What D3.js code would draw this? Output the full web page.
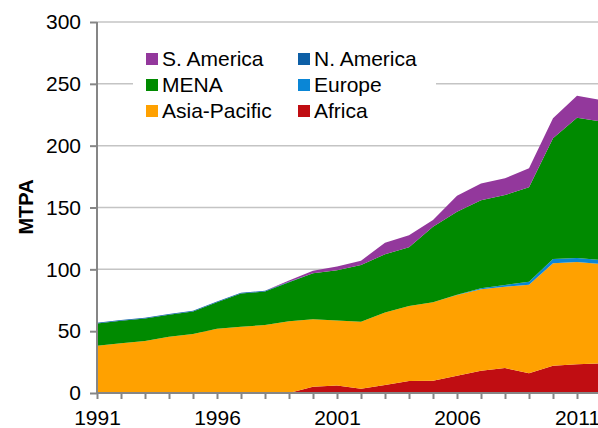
<!DOCTYPE html>
<html>
<head>
<meta charset="utf-8">
<script src="https://cdnjs.cloudflare.com/ajax/libs/d3/7.8.5/d3.min.js"></script>
<style>
body{margin:0;background:#fff;}
svg text{font-family:"Liberation Sans",Arial,sans-serif;fill:#000;}
</style>
</head>
<body>
<div id="root"></div>
<script>
// LNG exports by region, MTPA

var years=[1991,1992,1993,1994,1995,1996,1997,1998,1999,2000,2001,2002,2003,2004,2005,2006,2007,2008,2009,2010,2011,2012];
var africa=     [0,0,0,0,0,0,0,0,0,5,6,3.5,6.5,9.7,10,14,18,20.2,15.9,22.1,23.2,24];
var asiaPacific=[38.3,40.2,42,45.5,47.7,52,53.6,55,58,54.6,52.6,54.2,58.5,60.6,63.3,65.2,65.8,65.8,71.7,82.8,82.7,80.3];
var europe=     [0,0,0,0,0,0,0,0,0,0,0,0,0,0,0,0.3,1,1.3,2.4,3.5,3.3,3.2];
var mena=       [18,18.2,18.3,17.8,18.3,21.4,26.8,27.1,31.5,37.2,40.6,45.8,47.1,47.5,61.2,67.1,71.1,72.8,76.3,97.6,113.4,112];
var nAmerica=   [0.6,0.6,0.6,0.6,0.6,0.6,0.6,0.6,0.5,0,0,0,0,0,0,0,0,0,0,0,0,0];
var sAmerica=   [0,0,0,0,0,0,0,0,1,2.1,3.1,3.5,9.4,9.7,5.4,12.9,13.5,13.5,15.4,16.1,17.8,17.5];

var keys=['africa','asiaPacific','europe','mena','nAmerica','sAmerica'];
var names={africa:'Africa',asiaPacific:'Asia-Pacific',europe:'Europe',mena:'MENA',nAmerica:'N. America',sAmerica:'S. America'};
var colors={africa:'#c00d12',asiaPacific:'#ffa100',europe:'#0a86d6',mena:'#008a00',nAmerica:'#0d5fa6',sAmerica:'#93389c'};
var yTicks=[0,50,100,150,200,250,300];
var xTicks=[1991,1996,2001,2006,2011];

var W=598,H=428;
var svg=d3.select('#root').append('svg')
		.attr('width',W)
		.attr('height',H);

var table=years.map(function(y,i){
	return {year:y,africa:africa[i],asiaPacific:asiaPacific[i],europe:europe[i],mena:mena[i],nAmerica:nAmerica[i],sAmerica:sAmerica[i]};
});

var scaleX=d3.scaleLinear().domain([1991,2012]).range([97,601]);
var scaleY=d3.scaleLinear().domain([0,300]).range([393,22]);

// gridlines
svg.append('g').selectAll('line').data(yTicks.slice(1)).enter().append('line')
	.attr('x1',97).attr('x2',W)
	.attr('y1',function(d){return scaleY(d)}).attr('y2',function(d){return scaleY(d)})
	.attr('stroke','#c4c4c4').attr('stroke-width',1.5);

var series=d3.stack().keys(keys)(table);

var area=d3.area()
	.x(function(d){return scaleX(d.data.year)})
	.y0(function(d){return scaleY(d[0])})
	.y1(function(d){return scaleY(d[1])});

svg.append('g').selectAll('path').data(series).enter().append('path')
	.attr('d',area)
	.attr('fill',function(d){return colors[d.key]});

// axes
var yAxis=d3.axisLeft(scaleY).tickValues(yTicks).tickSize(7).tickPadding(9);
var gy=svg.append('g').attr('transform','translate(97,0)').call(yAxis);
var xAxis=d3.axisBottom(scaleX).tickValues(years).tickSize(6).tickFormat(function(d){return xTicks.indexOf(d)>=0?d:''});
var gx=svg.append('g').attr('transform','translate(0,393)').call(xAxis);

[gy,gx].forEach(function(g){
	g.select('.domain').attr('stroke','#868686').attr('stroke-width',2);
	g.selectAll('.tick line').attr('stroke','#868686').attr('stroke-width',2);
	g.selectAll('text').style('font-size','21px').attr('fill','#000');
});
gy.select('.domain').attr('d','M0,22V394');
gx.select('.domain').attr('d','M96,0H'+W);
gx.selectAll('text').attr('dy','0.71em').attr('y',17);

svg.append('text')
	.attr('transform','translate(33,207) rotate(-90)')
	.attr('text-anchor','middle')
	.style('font-size','20px').style('font-weight','bold')
	.text('MTPA');

// legend
var legendKeys=['sAmerica','nAmerica','mena','europe','asiaPacific','africa'];
var legend=svg.append('g');
legend.append('rect').attr('x',133).attr('y',38).attr('width',303).attr('height',90).attr('fill','#fff');
var legendG=legend.selectAll('.lg').data(legendKeys).enter().append('g').attr('class','lg')
	.attr('transform',function(d,i){return 'translate('+(i%2==0?146:298)+','+(53+Math.floor(i/2)*26)+')'});
legendG.append('rect').attr('width',12).attr('height',12).attr('fill',function(d){return colors[d]});
legendG.append('text').attr('x',16).attr('y',13).style('font-size','21px').text(function(d){return names[d]});
</script>
</body>
</html>
